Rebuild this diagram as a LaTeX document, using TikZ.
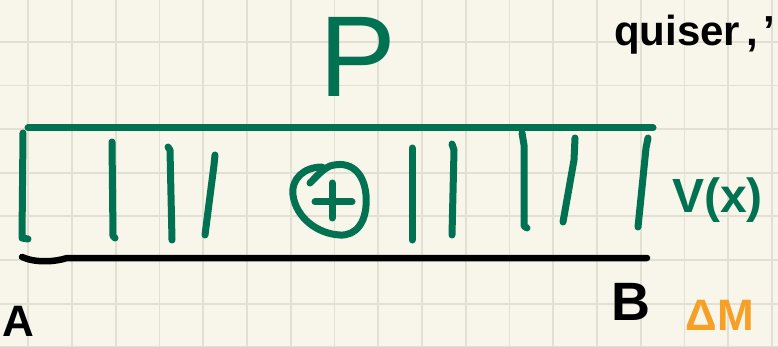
\documentclass[tikz,border=0pt]{standalone}
\usepackage{fontspec}
\setmainfont{Liberation Sans}
\definecolor{paper}{RGB}{248,246,234}
\definecolor{gridgray}{RGB}{226,223,211}
\definecolor{inkgreen}{RGB}{0,114,82}
\definecolor{inkorange}{RGB}{246,160,40}

\begin{document}
\begin{tikzpicture}[x=1pt,y=-1pt]
\tikzset{
  penstroke/.style={line width=7pt,line cap=round,line join=round},
  greenink/.style={penstroke,draw=inkgreen},
  blackink/.style={penstroke,draw=black,line width=6.5pt},
  gridline/.style={draw=gridgray,line width=1.8pt},
  handlabel/.style={inner sep=0pt}
}
\useasboundingbox (0,0) rectangle (778,347);
\clip (0,0) rectangle (778,347);
\fill[paper] (0,0) rectangle (778,347);
% squared paper
\foreach \gx in {0,...,17}
  \draw[gridline] ({28.3+43.75*\gx},0) -- ({28.3+43.75*\gx},347);
\foreach \gy in {0,...,8}
  \draw[gridline] (0,{-1.6+43.6*\gy}) -- (778,{-1.6+43.6*\gy});
% labels
\node[handlabel,text=inkgreen,font=\fontsize{115}{115}\selectfont] (loadP) at (358,57) {P};
\node[handlabel,text=inkgreen,font=\bfseries\fontsize{48}{48}\selectfont,anchor=base west] (shearV) at (672,213) {V(x)};
\node[handlabel,font=\bfseries\fontsize{44}{44}\selectfont] (ptA) at (18,321) {A};
\node[handlabel,font=\bfseries\fontsize{54}{54}\selectfont] (ptB) at (631,302) {B};
\node[handlabel,font=\bfseries\fontsize{42}{42}\selectfont,anchor=base west] (note) at (614,46) {quiser\hspace{6pt},\hspace{6pt}'};
\node[handlabel,text=inkorange,font=\bfseries\fontsize{44}{44}\selectfont,anchor=base] (deltaM) at (720,330) {ΔM};
% beam edges
\draw[greenink] (28,128) -- (653,128);
\draw[blackink] (22,257) .. controls (35,263) and (55,262) .. (67,258) -- (647,258);
% hatching
\draw[greenink] (23,133) -- (22,238) -- (28,239);
\draw[greenink] (112,142) -- (113,236) -- (115,238);
\draw[greenink] (168,147) -- (170,150) -- (172,240);
\draw[greenink] (215,155) -- (214,165) -- (205,235);
\draw[greenink] (412,148) -- (412,240);
\draw[greenink] (452,144) -- (454,150) -- (452,235);
\draw[greenink] (522,133) -- (524,145) -- (524,226) -- (527,228);
\draw[greenink] (575,138) -- (574,160) -- (563,222);
\draw[greenink] (648,138) -- (646,148) -- (638,227);
% positive sign
\draw[greenink] (310,183) .. controls (318,175) and (322,170) .. (330,166)
  .. controls (350,160) and (364,172) .. (366,195)
  .. controls (368,222) and (356,236) .. (340,235)
  .. controls (318,234) and (296,218) .. (293,195)
  .. controls (291,178) and (305,167) .. (322,167);
\draw[greenink] (315,202) -- (352,202);
\draw[greenink] (332,183) -- (332,218);
\end{tikzpicture}
\end{document}
